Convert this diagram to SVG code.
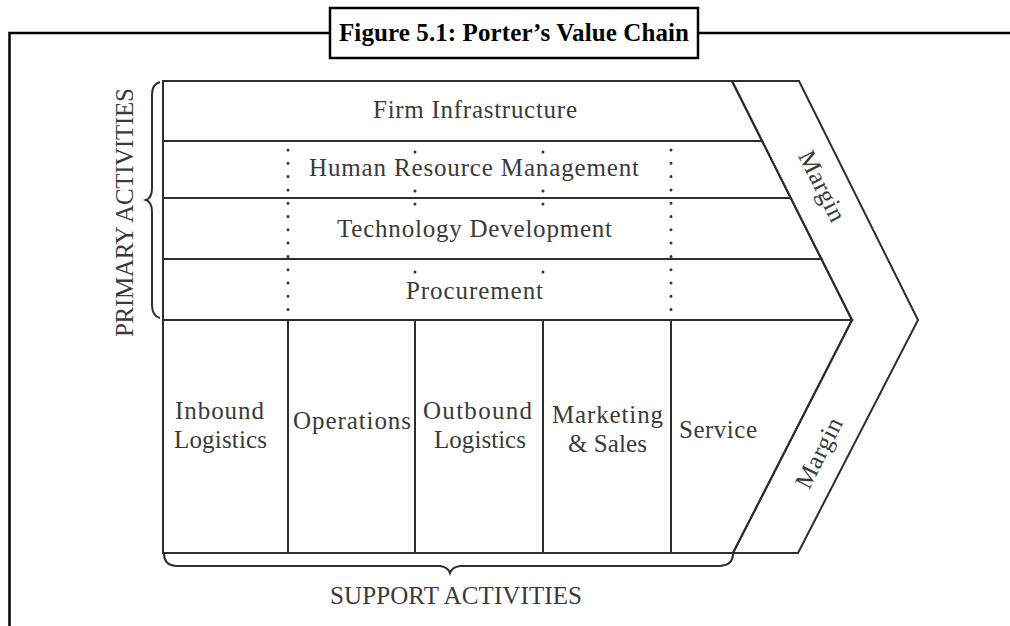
<svg xmlns="http://www.w3.org/2000/svg" width="1010" height="626" viewBox="0 0 1010 626">
<style>
.frame{fill:none;stroke:#000;stroke-width:2.5}
.box{fill:#fff;stroke:#000;stroke-width:2.5}
.title{font-family:"Liberation Serif",serif;font-weight:bold;font-size:25px;fill:#000}
.cell{fill:none;stroke:#2e2e2e;stroke-width:2;stroke-linejoin:miter}
.lbl{font-family:"Liberation Serif",serif;font-size:25px;fill:#3a3a3a}
.dots{stroke:#333;stroke-width:3;stroke-linecap:round;stroke-dasharray:0 13.3;fill:none}
.dot{fill:#333}
.brace{fill:none;stroke:#2e2e2e;stroke-width:2}
</style>
<rect width="1010" height="626" fill="#fff"/>
<g id="title-frame">
  <path class="frame" d="M9.5,626 L9.5,33 L330,33 M698,33 L1010,33"/>
  <rect class="box" x="330" y="8" width="368" height="50"/>
  <text class="title" x="514" y="41" text-anchor="middle" textLength="350">Figure 5.1: Porter’s Value Chain</text>
</g>
<g id="firm-infrastructure">
  <polygon class="cell" points="163,81 732,81 762.1,141 163,141"/>
  <text class="lbl" x="475" y="118" text-anchor="middle" textLength="204">Firm Infrastructure</text>
</g>
<g id="human-resource-management">
  <polygon class="cell" points="163,141 762.1,141 790.7,198 163,198"/>
  <text class="lbl" x="474" y="176" text-anchor="middle" textLength="330">Human Resource Management</text>
</g>
<g id="technology-development">
  <polygon class="cell" points="163,198 790.7,198 821.4,259 163,259"/>
  <text class="lbl" x="474.5" y="237" text-anchor="middle" textLength="275">Technology Development</text>
</g>
<g id="procurement">
  <polygon class="cell" points="163,259 821.4,259 852,320 163,320"/>
  <text class="lbl" x="474.5" y="299" text-anchor="middle" textLength="137">Procurement</text>
</g>
<g id="dividers">
  <line class="dots" x1="288" y1="150" x2="288" y2="318"/>
  <line class="dots" x1="671" y1="150" x2="671" y2="318"/>
  <circle class="dot" cx="415" cy="152" r="1.5"/>
  <circle class="dot" cx="415" cy="191" r="1.5"/>
  <circle class="dot" cx="415" cy="204" r="1.5"/>
  <circle class="dot" cx="415" cy="272" r="1.5"/>
  <circle class="dot" cx="543" cy="152" r="1.5"/>
  <circle class="dot" cx="543" cy="191" r="1.5"/>
  <circle class="dot" cx="543" cy="204" r="1.5"/>
  <circle class="dot" cx="543" cy="272" r="1.5"/>
</g>
<g id="inbound-logistics">
  <rect class="cell" x="163" y="320" width="125" height="233"/>
  <text class="lbl" x="219.5" y="419" text-anchor="middle" textLength="89">Inbound</text>
  <text class="lbl" x="220.5" y="448" text-anchor="middle" textLength="93">Logistics</text>
</g>
<g id="operations">
  <rect class="cell" x="288" y="320" width="127" height="233"/>
  <text class="lbl" x="352" y="429" text-anchor="middle" textLength="118">Operations</text>
</g>
<g id="outbound-logistics">
  <rect class="cell" x="415" y="320" width="128" height="233"/>
  <text class="lbl" x="477.5" y="419" text-anchor="middle" textLength="109">Outbound</text>
  <text class="lbl" x="480" y="448" text-anchor="middle" textLength="92">Logistics</text>
</g>
<g id="marketing-sales">
  <rect class="cell" x="543" y="320" width="128" height="233"/>
  <text class="lbl" x="607.5" y="423" text-anchor="middle" textLength="111">Marketing</text>
  <text class="lbl" x="607.5" y="452" text-anchor="middle" textLength="79">&amp; Sales</text>
</g>
<g id="service">
  <polygon class="cell" points="671,320 852,320 733,553 671,553"/>
  <text class="lbl" x="718" y="438" text-anchor="middle" textLength="78">Service</text>
</g>
<g id="margin">
  <polygon class="cell" points="732,81 799,81 918,320 798,553 733,553 852,320"/>
  <text class="lbl" transform="translate(822,186) rotate(63.3)" x="0" y="8" text-anchor="middle" textLength="76">Margin</text>
  <text class="lbl" transform="translate(819,453) rotate(-63)" x="0" y="8" text-anchor="middle" textLength="76">Margin</text>
</g>
<g id="primary-activities">
  <path class="brace" d="M160,82 Q152,84 152,95 L152,188 Q152,198 146,200 Q152,202 152,212 L152,305 Q152,316 160,318"/>
  <text class="lbl" transform="translate(133,212.5) rotate(-90)" x="0" y="0" text-anchor="middle" textLength="249">PRIMARY ACTIVITIES</text>
</g>
<g id="support-activities">
  <path class="brace" d="M164,554 Q164,565 176,566 L440,566 Q448,567 450,573 Q452,567 460,566 L720,566 Q733,565 733,554"/>
  <text class="lbl" x="456" y="604" text-anchor="middle" textLength="252">SUPPORT ACTIVITIES</text>
</g>
</svg>
